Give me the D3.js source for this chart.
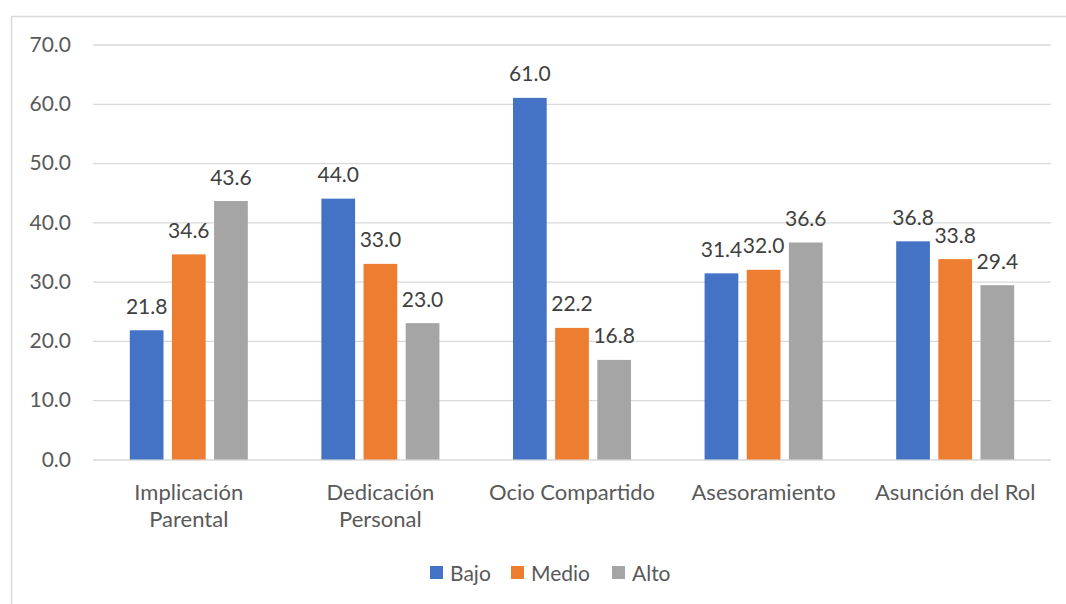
<!DOCTYPE html>
<html>
<head>
<meta charset="utf-8">
<script src="https://cdn.jsdelivr.net/npm/d3@7"></script>
<style>
  body { margin: 0; background: #fff; }
  text { font-family: Lato, "Open Sans", sans-serif; }
</style>
</head>
<body>
<div id="chart"></div>
<script>
var categories = [["Implicación", "Parental"], ["Dedicación", "Personal"], ["Ocio Compartido"], ["Asesoramiento"], ["Asunción del Rol"]];
var series = ["Bajo", "Medio", "Alto"];
var colors = ["#4472c4", "#ed7d31", "#a5a5a5"];
var bajo = [21.8, 44.0, 61.0, 31.4, 36.8];
var medio = [34.6, 33.0, 22.2, 32.0, 33.8];
var alto = [43.6, 23.0, 16.8, 36.6, 29.4];
var yTicks = [0, 10, 20, 30, 40, 50, 60, 70];

var values = [bajo, medio, alto];

var svgWidth = 1066, svgHeight = 604;
var svg = d3.select("#chart").append("svg")
    .attr("width", svgWidth)
    .attr("height", svgHeight);

// chart frame (runs off the right and bottom edge like the original)
svg.append("rect")
    .attr("x", 11.5).attr("y", 16.5)
    .attr("width", 1200).attr("height", 800)
    .attr("fill", "none")
    .attr("stroke", "#d9d9d9")
    .attr("stroke-width", 1.5);

var plotLeft = 93, plotRight = 1051, plotTop = 44.5, plotBottom = 459.5;

var y = d3.scaleLinear().domain([0, 70]).range([plotBottom, plotTop]);
var x0 = d3.scaleBand()
    .domain(d3.range(categories.length))
    .range([plotLeft, plotRight])
    .paddingInner(0.384)
    .paddingOuter(0.192);
var x1 = d3.scaleBand()
    .domain(d3.range(series.length))
    .range([0, x0.bandwidth()])
    .paddingInner(0.2);

// gridlines + y labels
var yAxis = d3.axisLeft(y).tickValues(yTicks)
    .tickSize(-(plotRight - plotLeft))
    .tickPadding(22)
    .tickFormat(d3.format(".1f"));
var yg = svg.append("g").attr("transform", "translate(" + plotLeft + ",0)").call(yAxis);
yg.select(".domain").remove();
yg.selectAll(".tick line").attr("stroke", "#d9d9d9").attr("stroke-width", 1.3);
yg.selectAll(".tick text")
    .attr("fill", "#595959")
    .style("font-size", "21px");

// bars
var groups = svg.selectAll("g.cat")
    .data(categories)
    .enter().append("g")
    .attr("class", "cat")
    .attr("transform", function(d, i) { return "translate(" + x0(i) + ",0)"; });

groups.each(function(c, i) {
    var g = d3.select(this);
    var rows = series.map(function(s, j) { return {j: j, v: values[j][i]}; });
    g.selectAll("rect")
        .data(rows)
        .enter().append("rect")
        .attr("x", function(d) { return x1(d.j); })
        .attr("y", function(d) { return y(d.v); })
        .attr("width", x1.bandwidth())
        .attr("height", function(d) { return y(0) - y(d.v); })
        .attr("fill", function(d) { return colors[d.j]; });
    g.selectAll("text.lbl")
        .data(rows)
        .enter().append("text")
        .attr("class", "lbl")
        .attr("x", function(d) { return x1(d.j) + x1.bandwidth() / 2; })
        .attr("y", function(d) { return y(d.v) - 16.5; })
        .attr("text-anchor", "middle")
        .attr("fill", "#404040")
        .style("font-size", "21px")
        .text(function(d) { return d.v.toFixed(1); });
});

// category labels
svg.selectAll("text.catlbl")
    .data(categories)
    .enter().append("text")
    .attr("class", "catlbl")
    .attr("x", function(d, i) { return x0(i) + x0.bandwidth() / 2; })
    .attr("y", 500)
    .attr("text-anchor", "middle")
    .attr("fill", "#595959")
    .style("font-size", "22px")
    .each(function(d) {
        var t = d3.select(this);
        d.forEach(function(line, k) {
            t.append("tspan")
                .attr("x", t.attr("x"))
                .attr("dy", k === 0 ? 0 : 27)
                .text(line);
        });
    });

// legend
var legendX = [430, 511, 612];
var legend = svg.selectAll("g.legend")
    .data(series)
    .enter().append("g")
    .attr("class", "legend")
    .attr("transform", function(d, i) { return "translate(" + legendX[i] + ",566)"; });
legend.append("rect")
    .attr("width", 13).attr("height", 13)
    .attr("fill", function(d, i) { return colors[i]; });
legend.append("text")
    .attr("x", 20).attr("y", 15)
    .attr("fill", "#595959")
    .style("font-size", "21px")
    .text(function(d) { return d; });
</script>
</body>
</html>
